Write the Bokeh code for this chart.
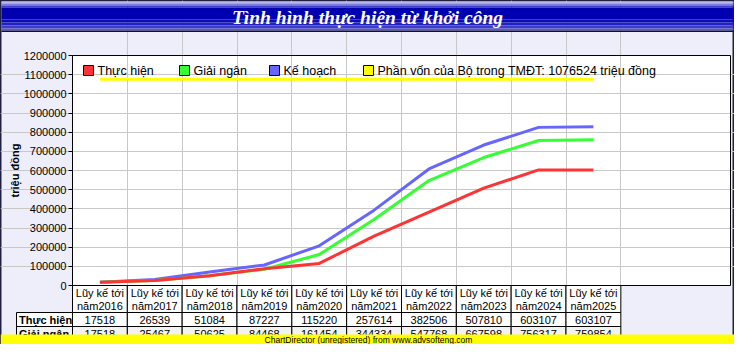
import math
from bokeh.plotting import figure
from bokeh.models import Range1d, FixedTicker, NumeralTickFormatter
from bokeh.core.properties import value
from bokeh.embed import file_html
from bokeh.resources import INLINE

# ---------------- data ----------------
title_text = "Tình hình thực hiện từ khởi công"
years = ["2016", "2017", "2018", "2019", "2020", "2021", "2022", "2023", "2024", "2025"]
header_line1 = "Lũy kế tới"
header_line2 = ["năm" + y for y in years]
series_names = ["Thực hiện", "Giải ngân", "Kế hoạch"]
thuc_hien = [17518, 26539, 51084, 87227, 115220, 257614, 382506, 507810, 603107, 603107]
giai_ngan = [17518, 25467, 50625, 84468, 161454, 344334, 547768, 667598, 756317, 759854]
ke_hoach = [17518, 31000, 70000, 107000, 207000, 393000, 608000, 733000, 825000, 828000]
tmdt = 1076524
tmdt_label = "Phần vốn của Bộ trong TMĐT: %d triệu đồng" % tmdt
y_ticks = [0, 100000, 200000, 300000, 400000, 500000, 600000,
           700000, 800000, 900000, 1000000, 1100000, 1200000]
y_title = "triệu đồng"
footer_text = "ChartDirector (unregistered) from www.advsofteng.com"
n_slots = 12

# ---------------- layout (canvas pixels) ----------------
FONT = "Liberation Sans"
W, H = 734, 344
PL, PR, PT, PB = 72, 730, 55, 285          # plot area in canvas px
HDR_BOT, ROW1_BOT, ROW2_BOT = 312, 326, 341
FOOT_TOP = 334
RED, GREEN, BLUE, YELLOW = "#FF3333", "#33FF33", "#6666FF", "#FFFF00"
BG = "#EEEEFB"

ppx = (PR - PL) / n_slots                       # px per category slot
ppy = (PB - PT) / (y_ticks[-1] - y_ticks[0])    # px per value unit


def X(px):
    return (px - PL) / ppx


def Y(py):
    return y_ticks[0] + (PB - py) / ppy


p = figure(width=W, height=H, x_range=Range1d(X(0), X(W)), y_range=Range1d(Y(H), Y(0)),
           output_backend="svg", toolbar_location=None, min_border=0,
           background_fill_color=BG, border_fill_color=BG,
           outline_line_color="#202040", outline_line_width=2)
p.xaxis.visible = False

# plot area background
p.quad(left=0, right=n_slots, bottom=y_ticks[0], top=y_ticks[-1],
       fill_color="white", line_color=None, level="image")

ya = p.yaxis[0]
ya.fixed_location = 0
ya.bounds = (y_ticks[0], y_ticks[-1])
ya.ticker = FixedTicker(ticks=y_ticks)
ya.formatter = NumeralTickFormatter(format="0")
ya.major_label_text_font = FONT
ya.major_label_text_font_size = "11px"
ya.major_label_text_color = "black"
ya.axis_line_color = "black"
ya.major_tick_line_color = "black"
ya.major_tick_out = 4
ya.major_tick_in = 0
ya.minor_tick_out = 0
ya.minor_tick_in = 0
ya.major_label_standoff = 2

p.ygrid.ticker = FixedTicker(ticks=y_ticks[1:-1])
p.ygrid.bounds = (0, n_slots)
p.ygrid.grid_line_color = "#C8C8C8"
p.xgrid.ticker = FixedTicker(ticks=list(range(1, len(years) + 1)))
p.xgrid.bounds = (y_ticks[0], y_ticks[-1])
p.xgrid.grid_line_color = "#C8C8C8"

p.quad(left=0, right=n_slots, bottom=y_ticks[0], top=y_ticks[-1],
       fill_color=None, line_color="black", line_width=1)

xc = [i + 0.5 for i in range(len(years))]
p.line([xc[0], xc[-1]], [tmdt, tmdt], line_color=YELLOW, line_width=3)
p.line(xc, ke_hoach, line_color=BLUE, line_width=3)
p.line(xc, giai_ngan, line_color=GREEN, line_width=3)
p.line(xc, thuc_hien, line_color=RED, line_width=3)

# legend (inside the plot area, top-left)
leg_px = [83, 179, 269, 363]
leg_cy = 70
for px, name, col in zip(leg_px, series_names + [tmdt_label], [RED, GREEN, BLUE, YELLOW]):
    p.quad(left=X(px), right=X(px + 10), top=Y(leg_cy - 5), bottom=Y(leg_cy + 5),
           fill_color=col, line_color="black", line_width=1)
    p.text(x=[X(px + 14)], y=[Y(leg_cy)], text=[name], text_align="left",
           text_baseline="middle", text_font=value(FONT), text_font_size="12.5px",
           text_color="black")

# y-axis title
p.text(x=[X(14)], y=[Y((PT + PB) / 2)], text=[y_title], angle=math.pi / 2,
       text_align="center", text_baseline="middle", text_font=value(FONT),
       text_font_size="11px", text_font_style="bold", text_color="black")

# title bar (gradient approximated by bands)
bands = [(1, 3, "#B8B8EC"), (3, 5, "#7C7CDC"), (5, 7, "#3E3EC4"), (7, 19, "#0000B0"),
         (19, 22, "#0C0CB6"), (22, 25, "#2222BE"), (25, 28, "#3C3CC8"), (28, 30, "#5858D2"),
         (30, 31.5, "#101030")]
for t, b, c in bands:
    p.quad(left=X(1), right=X(W - 1), top=Y(t), bottom=Y(b), fill_color=c, line_color=None)
p.text(x=[X(W / 2)], y=[Y(16.5)], text=[title_text], text_align="center", text_baseline="middle",
       text_font=value("Liberation Serif"), text_font_style="bold italic",
       text_font_size="19.5px", text_color="white")

# table
lefts = list(range(len(years)))
rights = [i + 1 for i in lefts]
p.quad(left=lefts, right=rights, top=Y(PB), bottom=Y(HDR_BOT), fill_color="white", line_color="black")
p.quad(left=lefts, right=rights, top=Y(HDR_BOT), bottom=Y(ROW1_BOT), fill_color="white", line_color="black")
p.quad(left=lefts, right=rights, top=Y(ROW1_BOT), bottom=Y(ROW2_BOT), fill_color="#F2F2F2", line_color="black")
p.quad(left=[X(16), X(16)], right=[0, 0], top=[Y(HDR_BOT), Y(ROW1_BOT)],
       bottom=[Y(ROW1_BOT), Y(ROW2_BOT)], fill_color=["white", "#F2F2F2"], line_color="black")

tfont = dict(text_align="center", text_baseline="middle", text_font=value(FONT),
             text_font_size="11px", text_color="black")
p.text(x=xc, y=[Y(PB + 7.5)] * len(xc), text=[header_line1] * len(xc), **tfont)
p.text(x=xc, y=[Y(PB + 20)] * len(xc), text=header_line2, **tfont)
p.text(x=xc, y=[Y(HDR_BOT + 7.5)] * len(xc), text=[str(v) for v in thuc_hien], **tfont)
p.text(x=xc, y=[Y(ROW1_BOT + 7.5)] * len(xc), text=[str(v) for v in giai_ngan], **tfont)
p.text(x=[X(18.5), X(18.5)], y=[Y(HDR_BOT + 7.5), Y(ROW1_BOT + 7.5)], text=series_names[:2],
       text_align="left", text_baseline="middle", text_font=value(FONT),
       text_font_size="11px", text_font_style="bold", text_color="black")

# footer
p.quad(left=X(0), right=X(W), top=Y(FOOT_TOP), bottom=Y(H), fill_color="#FFFF00", line_color=None)
p.text(x=[X(368)], y=[Y((FOOT_TOP + H) / 2)], text=[footer_text], text_align="center",
       text_baseline="middle", text_font=value(FONT), text_font_size="8.5px", text_color="black")

open("out.html", "w").write(file_html(p, INLINE))
